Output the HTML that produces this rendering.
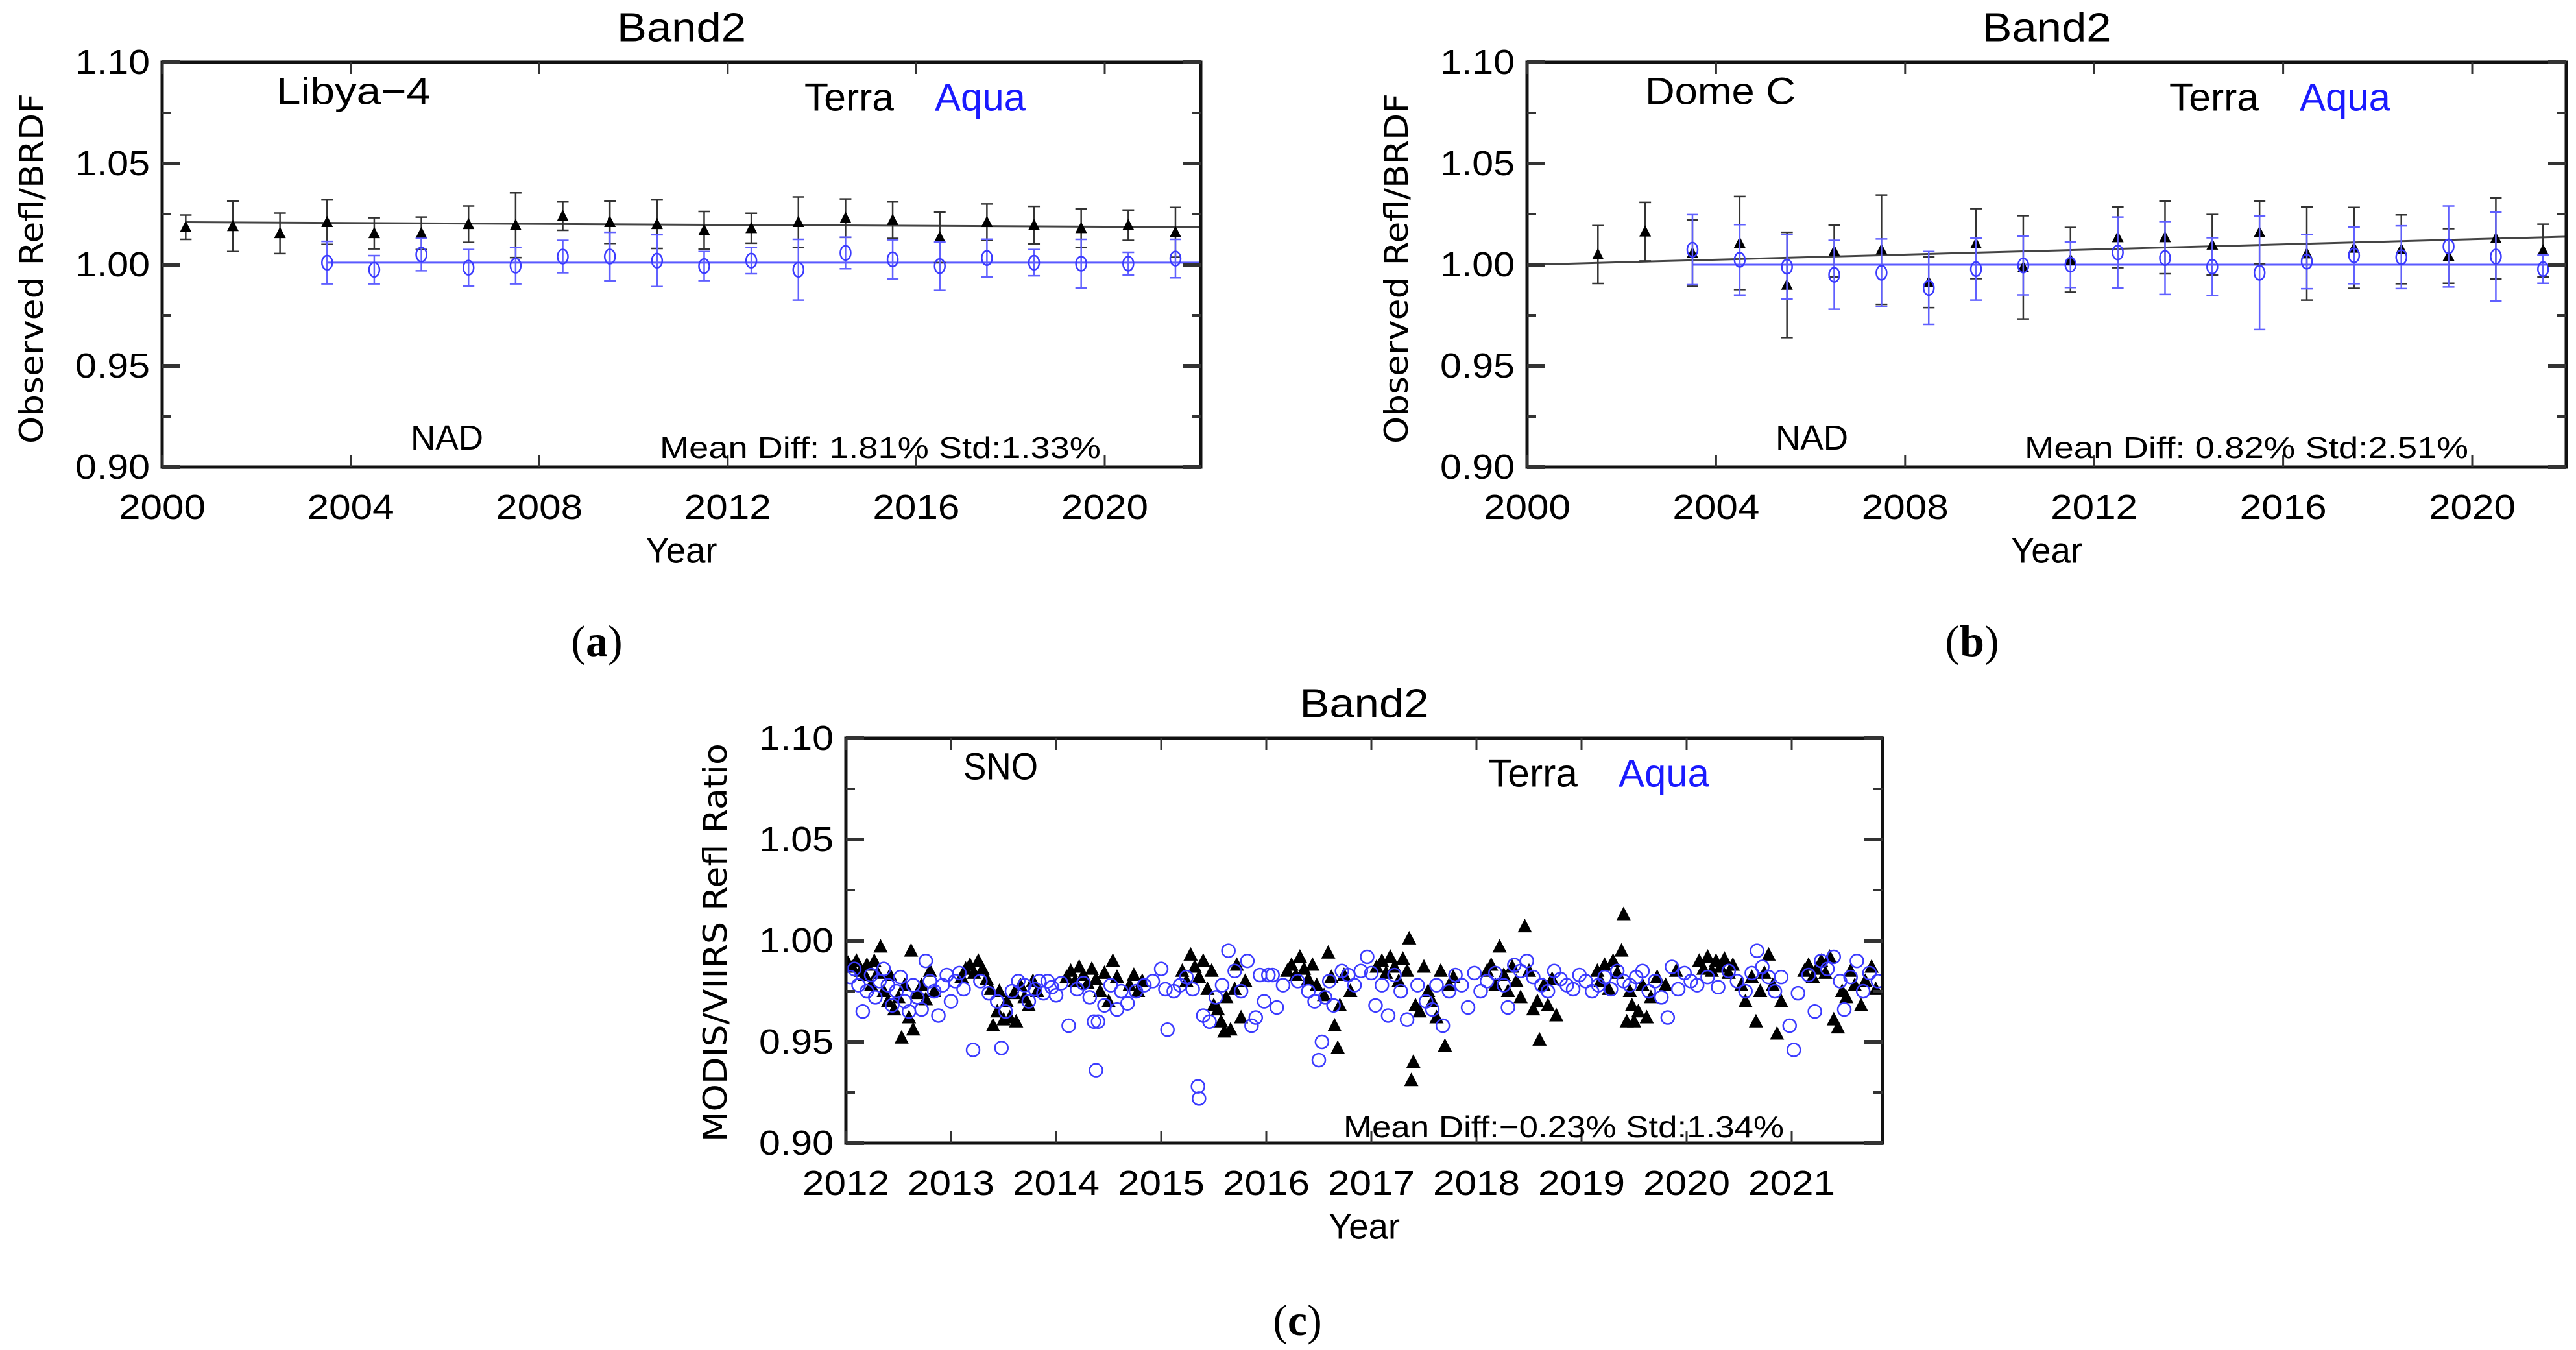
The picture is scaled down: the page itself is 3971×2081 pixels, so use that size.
<!DOCTYPE html>
<html><head><meta charset="utf-8"><style>
html,body{margin:0;padding:0;background:#fff;}
svg{display:block;}
</style></head><body>
<svg id="fig" width="3971" height="2081" viewBox="0 0 3971 2081" xmlns="http://www.w3.org/2000/svg"></svg>
<script>
// ---- Panel (a) Libya-4 ----
const aTerraYears=[2000.5,2001.5,2002.5,2003.5,2004.5,2005.5,2006.5,2007.5,2008.5,2009.5,2010.5,2011.5,2012.5,2013.5,2014.5,2015.5,2016.5,2017.5,2018.5,2019.5,2020.5,2021.5];
const aTerraVals=[1.0185,1.019,1.0155,1.021,1.0155,1.0155,1.02,1.0195,1.024,1.021,1.02,1.017,1.018,1.021,1.023,1.022,1.0135,1.021,1.0195,1.018,1.0195,1.016];
const aTerraErr=[0.006,0.0125,0.01,0.011,0.0077,0.008,0.009,0.016,0.007,0.0105,0.012,0.0093,0.0074,0.0125,0.0095,0.009,0.0125,0.009,0.0093,0.0095,0.0075,0.0123];
const aAquaYears=[2003.5,2004.5,2005.5,2006.5,2007.5,2008.5,2009.5,2010.5,2011.5,2012.5,2013.5,2014.5,2015.5,2016.5,2017.5,2018.5,2019.5,2020.5,2021.5];
const aAquaVals=[1.001,0.9975,1.005,0.9985,0.9995,1.004,1.004,1.002,0.9993,1.002,0.9975,1.0058,1.0026,0.9993,1.0033,1.001,1.0005,1.0005,1.003];
const aAquaErr=[0.0105,0.007,0.008,0.009,0.009,0.008,0.012,0.0128,0.0072,0.0065,0.015,0.0078,0.0097,0.012,0.0093,0.0065,0.012,0.0056,0.0095];
const aTerraTrend=[1.021,1.0185];
const aAquaTrend=[1.001,1.001];
// ---- Panel (b) Dome C ----
const bTerraYears=[2001.5,2002.5,2003.5,2004.5,2005.5,2006.5,2007.5,2008.5,2009.5,2010.5,2011.5,2012.5,2013.5,2014.5,2015.5,2016.5,2017.5,2018.5,2019.5,2020.5,2021.5];
const bTerraVals=[1.005,1.0163,1.0057,1.0107,0.99,1.0067,1.0074,0.9913,1.0104,0.9987,1.0024,1.0135,1.0135,1.0098,1.016,1.0055,1.0083,1.0076,1.0043,1.013,1.007];
const bTerraErr=[0.0143,0.0145,0.0164,0.023,0.026,0.0128,0.027,0.0125,0.0173,0.0255,0.016,0.015,0.018,0.015,0.0155,0.023,0.02,0.017,0.0135,0.02,0.013];
const bAquaYears=[2003.5,2004.5,2005.5,2006.5,2007.5,2008.5,2009.5,2010.5,2011.5,2012.5,2013.5,2014.5,2015.5,2016.5,2017.5,2018.5,2019.5,2020.5,2021.5];
const bAquaVals=[1.0074,1.0024,0.999,0.995,0.996,0.9885,0.9978,0.9996,1.0,1.006,1.0033,0.999,0.996,1.0015,1.0046,1.0037,1.009,1.004,0.9978];
const bAquaErr=[0.0173,0.0174,0.016,0.017,0.0167,0.018,0.0153,0.0145,0.0113,0.0175,0.018,0.0143,0.028,0.0134,0.014,0.0155,0.02,0.022,0.007];
const bTerraTrend=[1.0,1.0139];
const bAquaTrend=[1.0,1.0];
// ---- Panel (c) SNO ----
const cTerraYears=[2012.02,2012.06,2012.10,2012.14,2012.18,2012.20,2012.24,2012.27,2012.30,2012.33,2012.36,2012.40,2012.42,2012.46,2012.50,2012.53,2012.56,2012.60,2012.62,2012.64,2012.68,2012.72,2012.76,2012.80,2012.84,
2013.10,2013.14,2013.18,2013.22,2013.26,2013.30,2013.34,2013.38,2013.40,2013.44,2013.46,2013.50,2013.53,2013.56,2013.60,2013.62,2013.66,2013.70,2013.74,2013.78,2013.82,
2014.10,2014.14,2014.18,2014.22,2014.26,2014.30,2014.34,2014.38,2014.42,2014.46,2014.50,2014.54,2014.58,2014.70,2014.74,2014.78,2014.82,
2015.20,2015.24,2015.28,2015.32,2015.36,2015.40,2015.44,2015.48,2015.50,2015.54,2015.57,2015.60,2015.62,2015.66,2015.70,2015.72,2015.76,2015.80,
2016.20,2016.24,2016.28,2016.32,2016.36,2016.40,2016.44,2016.48,2016.55,2016.59,2016.62,2016.65,2016.68,2016.70,2016.74,2016.80,
2017.05,2017.10,2017.14,2017.18,2017.22,2017.26,2017.30,2017.34,2017.36,2017.38,2017.40,2017.42,2017.46,2017.50,2017.54,2017.58,2017.62,2017.66,2017.70,2017.74,2017.78,
2018.10,2018.14,2018.18,2018.22,2018.26,2018.30,2018.34,2018.38,2018.42,2018.46,2018.50,2018.54,2018.58,2018.60,2018.64,2018.68,2018.72,2018.76,
2019.15,2019.18,2019.22,2019.26,2019.30,2019.34,2019.38,2019.40,2019.43,2019.46,2019.48,2019.50,2019.54,2019.58,2019.62,2019.66,2019.72,2019.80,2019.90,
2020.12,2020.16,2020.20,2020.24,2020.28,2020.32,2020.36,2020.40,2020.44,2020.52,2020.56,2020.62,2020.66,2020.70,2020.74,2020.78,2020.82,2020.86,2020.90,
2021.12,2021.16,2021.20,2021.24,2021.28,2021.32,2021.36,2021.40,2021.44,2021.48,2021.52,2021.56,2021.60,2021.66,2021.70,2021.76,2021.80];
const cTerraVals=[.989,.987,.990,.985,.983,.988,.978,.990,.984,.997,.975,.970,.983,.966,.972,.952,.978,.962,.995,.956,.974,.978,.971,.985,.975,
.982,.986,.988,.984,.990,.986,.981,.976,.958,.965,.975,.961,.970,.962,.974,.960,.978,.972,.968,.980,.975,
.982,.985,.980,.987,.983,.979,.986,.981,.975,.984,.970,.990,.982,.978,.983,.975,.980,
.985,.980,.993,.987,.982,.990,.976,.985,.968,.966,.960,.955,.972,.956,.976,.988,.962,.980,
.985,.988,.983,.992,.986,.981,.988,.978,.973,.994,.982,.958,.947,.968,.983,.975,
.987,.990,.984,.992,.987,.980,.991,.985,1.001,.931,.940,.968,.965,.987,.975,.970,.962,.985,.948,.978,.982,
.985,.988,.978,.997,.983,.975,.987,.980,.972,1.007,.985,.966,.970,.951,.978,.968,.981,.963,
.985,.980,.988,.976,.990,.984,.995,1.013,.960,.975,.968,.960,.965,.978,.962,.972,.982,.978,.985,
.990,.986,.992,.985,.990,.987,.991,.984,.988,.978,.970,.982,.960,.975,.984,.993,.978,.954,.970,
.985,.988,.982,.986,.990,.984,.992,.961,.957,.975,.972,.985,.978,.968,.980,.987,.976];
const cAquaYears=[2012.04,2012.08,2012.12,2012.16,2012.20,2012.24,2012.28,2012.32,2012.36,2012.40,2012.44,2012.48,2012.52,2012.56,2012.60,2012.64,2012.68,2012.72,2012.76,2012.80,2012.84,2012.88,2012.92,2012.96,2013.00,2013.04,2013.08,
2013.12,2013.21,2013.28,2013.36,2013.44,2013.48,2013.52,2013.58,2013.64,2013.70,2013.74,2013.80,2013.84,2013.88,2013.92,2013.96,2014.00,2014.05,2014.12,2014.20,2014.26,2014.32,2014.36,2014.38,2014.40,2014.46,2014.52,2014.58,2014.62,2014.68,2014.76,2014.84,2014.92,2015.00,
2015.04,2015.06,2015.12,2015.18,2015.24,2015.30,2015.35,2015.36,2015.40,2015.46,2015.52,2015.58,2015.64,2015.70,2015.76,2015.82,2015.86,2015.90,2015.94,2015.98,2016.02,2016.06,2016.10,2016.16,
2016.30,2016.40,2016.46,2016.50,2016.53,2016.56,2016.60,2016.64,2016.72,2016.78,2016.84,2016.90,2016.96,2017.00,2017.04,2017.10,2017.16,2017.22,2017.28,2017.34,2017.44,2017.52,2017.58,2017.62,2017.68,2017.74,2017.80,2017.86,2017.92,2017.98,2018.04,
2018.10,2018.18,2018.26,2018.30,2018.36,2018.42,2018.48,2018.54,2018.62,2018.68,2018.74,2018.80,2018.86,2018.92,2018.98,2019.04,2019.10,2019.16,2019.22,2019.28,2019.34,2019.40,2019.46,2019.52,2019.58,2019.64,2019.70,
2019.76,2019.82,2019.86,2019.92,2019.98,2020.04,2020.10,2020.20,2020.30,2020.40,2020.48,2020.56,2020.62,2020.67,2020.72,2020.78,2020.84,2020.90,2020.98,2021.02,2021.06,2021.16,2021.22,2021.28,2021.34,2021.40,2021.46,2021.50,2021.56,2021.62,2021.68,2021.74,2021.82];
const cAquaVals=[.982,.986,.978,.965,.975,.983,.972,.980,.986,.978,.968,.975,.982,.970,.965,.978,.972,.966,.990,.980,.975,.963,.978,.983,.970,.980,.984,
.976,.946,.980,.974,.970,.947,.965,.975,.980,.978,.970,.976,.980,.974,.980,.977,.973,.979,.958,.976,.979,.972,.960,.936,.960,.968,.978,.966,.975,.969,.975,.978,.980,.986,
.976,.956,.975,.978,.982,.976,.928,.922,.963,.960,.972,.978,.995,.985,.975,.990,.958,.962,.983,.970,.983,.983,.967,.978,
.980,.975,.970,.941,.950,.972,.980,.968,.985,.983,.978,.985,.992,.984,.968,.978,.963,.983,.975,.961,.978,.970,.966,.978,.958,.975,.983,.978,.967,.984,.975,
.980,.984,.978,.967,.988,.985,.990,.982,.978,.975,.985,.981,.978,.976,.983,.980,.975,.978,.982,.976,.985,.980,.978,.982,.985,.975,.980,
.972,.962,.987,.976,.984,.980,.978,.982,.977,.985,.980,.975,.984,.995,.987,.982,.975,.982,.958,.946,.974,.983,.965,.990,.986,.992,.980,.966,.982,.990,.975,.984,.980];
const yTickVals=[0.90,0.95,1.00,1.05,1.10];
const yTickLabels=["0.90","0.95","1.00","1.05","1.10"];
const abXTicks=[2000,2004,2008,2012,2016,2020];
const cXTicks=[2012,2013,2014,2015,2016,2017,2018,2019,2020,2021];

const NS="http://www.w3.org/2000/svg";
const svg=document.getElementById('fig');
const SANS='"Liberation Sans Narrow","Liberation Sans",sans-serif';
function mk(tag,attrs,parent){const e=document.createElementNS(NS,tag);for(const k in attrs)e.setAttribute(k,attrs[k]);(parent||svg).appendChild(e);return e;}
function txt(parent,s,x,y,size,opts){opts=opts||{};const t=mk('text',{x:x,y:y,'font-size':size,fill:opts.fill||'#000','text-anchor':opts.anchor||'start','dominant-baseline':'central'},parent);
 t.style.fontFamily=opts.family||SANS;
 if(opts.len){t.setAttribute('textLength',opts.len);t.setAttribute('lengthAdjust','spacingAndGlyphs');}
 if(opts.rot)t.setAttribute('transform','rotate(-90 '+x+' '+y+')');
 t.textContent=s;return t;}

function panel(p){
 const g=mk('g',{});
 
 
 const X=v=>p.L+(v-p.x0)*p.ppy;
 const Y=v=>p.B-(v-0.90)/(0.20)*(p.B-p.T);
 const clip='clip-'+p.id;
 const cp=mk('clipPath',{id:clip},g);mk('rect',{x:p.L,y:p.T,width:p.R-p.L,height:p.B-p.T},cp);
 const dg=mk('g',{'clip-path':'url(#'+clip+')'},g);
 
 
 if(p.terraTrend){
  const l=mk('line',{x1:X(p.terraTrendX[0]),y1:Y(p.terraTrend[0]),x2:X(p.terraTrendX[1]),y2:Y(p.terraTrend[1]),stroke:'#444','stroke-width':3},dg);
  
  
  const l2=mk('line',{x1:X(p.aquaTrendX[0]),y1:Y(p.aquaTrend[0]),x2:X(p.aquaTrendX[1]),y2:Y(p.aquaTrend[1]),stroke:'#5a5aff','stroke-width':3},dg);
  
  
 }
 const big=!p.terraErr;
 function series(years,vals,errs,kind){
  for(let i=0;i<years.length;i++){
   const x=X(years[i]),y=Y(vals[i]);
   const col=kind==='terra'?'#000':'#3a3aff';
   if(errs){
    const y1=Y(vals[i]+errs[i]),y2=Y(vals[i]-errs[i]);
    const eb=mk('path',{d:`M${x},${y1}V${y2}M${x-9},${y1}H${x+9}M${x-9},${y2}H${x+9}`,stroke:kind==='terra'?'#333':'#6060ff','stroke-width':2.5,fill:'none'},dg);
    
    
   }
   let m;
   if(kind==='terra'){const w=big?11:9,h=big?12:10;m=mk('path',{d:`M${x},${y-h}L${x+w},${y+h*0.75}L${x-w},${y+h*0.75}Z`,fill:'#000'},dg);}
   else{m=mk('ellipse',{cx:x,cy:y,rx:errs?8:10,ry:errs?11:10,fill:'none',stroke:col,'stroke-width':2.5},dg);}
   
   
  }
 }
 series(p.terraYears,p.terraVals,p.terraErr,'terra');series(p.aquaYears,p.aquaVals,p.aquaErr,'aqua');
 const fr=mk('rect',{x:p.L,y:p.T,width:p.R-p.L,height:p.B-p.T,fill:'none',stroke:'#111','stroke-width':5},g);
 
 
 for(let i=0;i<yTickVals.length;i++){
  const y=Y(yTickVals[i]);
  mk('path',{d:`M${p.L},${y}h28M${p.R},${y}h-28`,stroke:'#333','stroke-width':6},g);
  if(i<yTickVals.length-1){const ym=Y(yTickVals[i]+0.025);mk('path',{d:`M${p.L},${ym}h14M${p.R},${ym}h-14`,stroke:'#333','stroke-width':4},g);}
  const t=txt(g,yTickLabels[i],p.L-19,y,54,{anchor:'end',len:115});
  
  
 }
 for(const v of p.xTicks){
  const x=X(v);
  mk('path',{d:`M${x},${p.B}v-18M${x},${p.T}v18`,stroke:'#333','stroke-width':3},g);
  const t=txt(g,String(v),x,p.B+62,54,{anchor:'middle',len:134});
  
  
 }
 const cx=(p.L+p.R)/2;
 let t=txt(g,'Band2',cx,p.T-53,62,{anchor:'middle',len:199});
 
 
 t=txt(g,'Year',cx,p.B+128,56,{anchor:'middle',len:110});
 
 
 t=txt(g,p.ylabel,p.L-201,(p.yl0+p.yl1)/2,50,{anchor:'middle',len:p.yl1-p.yl0,rot:true,family:'"DejaVu Sans",sans-serif'});
 
 
 t=txt(g,p.site,p.L+p.siteDx,p.T+p.siteDy,58,{len:p.siteW});
 
 
 t=txt(g,'Terra',p.L+990,p.T+p.legDy,60,{len:138});
 
 
 t=txt(g,'Aqua',p.L+1191,p.T+p.legDy,60,{len:140,fill:'#1a1aff'});
 
 
 if(p.nad){t=txt(g,'NAD',p.L+383,p.B-45,54,{len:112});
  
  }
 t=txt(g,p.stats,p.L+p.statsDx,p.B-p.statsDy,46,{len:p.statsW});
 
 
 t=mk('text',{x:p.labelX,y:p.labelY,'font-size':68,'text-anchor':'middle','dominant-baseline':'central',fill:'#000'},g);
 t.style.fontFamily='"Liberation Serif",serif';
 
 
 const s1=mk('tspan',{},t);s1.textContent='(';
 const s2=mk('tspan',{'font-weight':'bold'},t);s2.textContent=p.panelLetter;
 const s3=mk('tspan',{},t);s3.textContent=')';
}

panel({id:'a',name:'panel-a-libya',L:250,R:1851,T:96,B:720,x0:2000,ppy:72.65,xTicks:abXTicks,
 terraYears:aTerraYears,terraVals:aTerraVals,terraErr:aTerraErr,aquaYears:aAquaYears,aquaVals:aAquaVals,aquaErr:aAquaErr,
 terraTrend:aTerraTrend,terraTrendX:[2000.5,2022.1],aquaTrend:aAquaTrend,aquaTrendX:[2003.5,2022.1],
 ylabel:'Observed  Refl/BRDF',yl0:144,yl1:684,site:'Libya\u22124',siteDx:176,siteDy:45,siteW:238,legDy:54,nad:true,
 stats:'Mean Diff: 1.81%  Std:1.33%',statsDx:767,statsDy:30,statsW:680,panelLetter:'a',labelX:920,labelY:988});
panel({id:'b',name:'panel-b-domec',L:2354,R:3956,T:96,B:720,x0:2000,ppy:72.85,xTicks:abXTicks,
 terraYears:bTerraYears,terraVals:bTerraVals,terraErr:bTerraErr,aquaYears:bAquaYears,aquaVals:bAquaVals,aquaErr:bAquaErr,
 terraTrend:bTerraTrend,terraTrendX:[2000.1,2022.1],aquaTrend:bAquaTrend,aquaTrendX:[2003.5,2022.1],
 ylabel:'Observed  Refl/BRDF',yl0:144,yl1:684,site:'Dome  C',siteDx:182,siteDy:45,siteW:232,legDy:54,nad:true,
 stats:'Mean Diff: 0.82%  Std:2.51%',statsDx:767,statsDy:30,statsW:684,panelLetter:'b',labelX:3040,labelY:988});
panel({id:'c',name:'panel-c-sno',L:1304,R:2902,T:1138,B:1762,x0:2012,ppy:162,xTicks:cXTicks,
 terraYears:cTerraYears,terraVals:cTerraVals,terraErr:null,aquaYears:cAquaYears,aquaVals:cAquaVals,aquaErr:null,
 ylabel:'MODIS/VIIRS  Refl  Ratio',yl0:1146,yl1:1760,site:'SNO',siteDx:181,siteDy:44,siteW:115,legDy:54,nad:false,
 stats:'Mean Diff:\u22120.23% Std:1.34%',statsDx:767,statsDy:25,statsW:679,panelLetter:'c',labelX:2000,labelY:2035});
</script>
</body></html>
